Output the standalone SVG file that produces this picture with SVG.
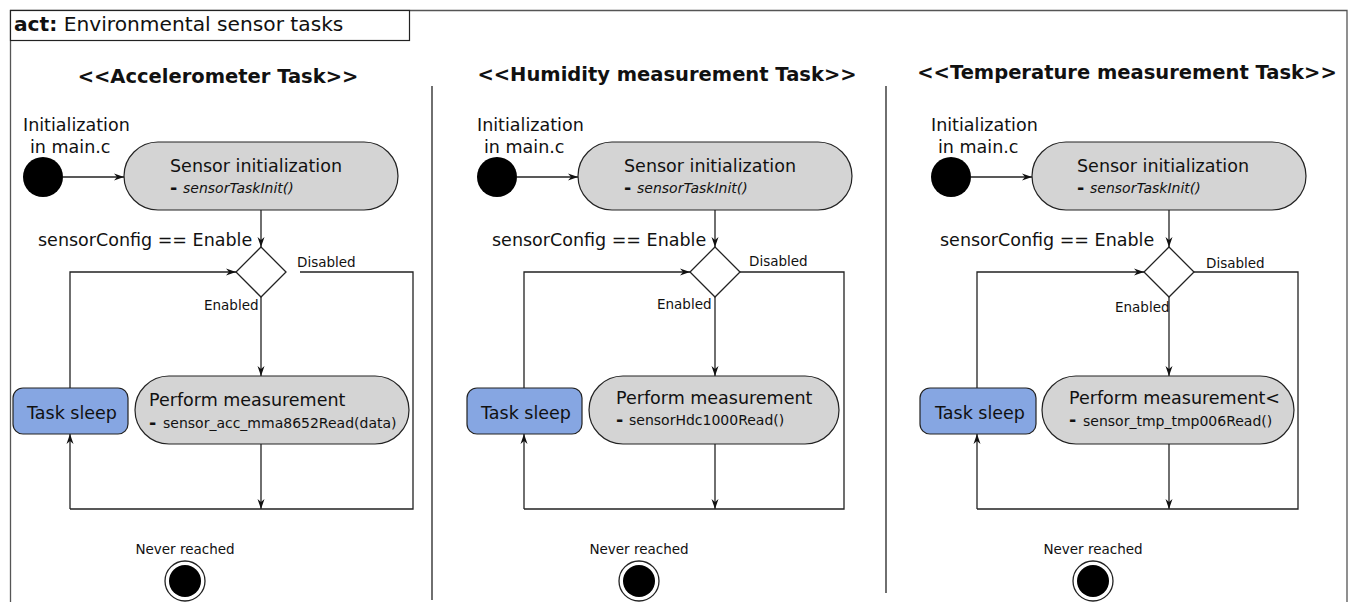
<svg xmlns="http://www.w3.org/2000/svg" width="1348" height="602" viewBox="0 0 1348 602">
<defs>
<style>
text{font-family:"DejaVu Sans","Liberation Sans",sans-serif;fill:#111}
.t{font-size:17.5px}
.d{font-size:17.5px;font-weight:bold}
.s{font-size:13.5px}
.c{font-size:14px}
.i{font-size:14px;font-style:italic}
.h{font-size:19.5px;font-weight:bold;text-anchor:middle}
.box{fill:#d4d4d4;stroke:#222;stroke-width:1.2}
.blue{fill:#86a6e2;stroke:#222;stroke-width:1.2}
.ln{fill:none;stroke:#222;stroke-width:1.3}
.arr{fill:none;stroke:#222;stroke-width:1.3;marker-end:url(#a)}
.dia{fill:#fff;stroke:#222;stroke-width:1.3}
</style>
<marker id="a" viewBox="0 0 10 8" refX="10" refY="4" markerWidth="10" markerHeight="8" markerUnits="userSpaceOnUse" orient="auto"><path d="M0,0.5 L10,4 L0,7.5 L3,4 z" fill="#111"/></marker>
</defs>
<rect width="1348" height="602" fill="#fff"/>
<g id="frame">
<path d="M10.5,602 V10.5 H1347 V602" fill="none" stroke="#555" stroke-width="1.3"/>
<rect x="10.5" y="10.5" width="399" height="30" fill="#fff" stroke="#222" stroke-width="1.2"/>
<text x="14" y="31" style="font-size:20.2px"><tspan font-weight="bold">act:</tspan> Environmental sensor tasks</text>
<line x1="432" y1="86" x2="432" y2="600" stroke="#222" stroke-width="1.3"/>
<line x1="886" y1="86" x2="886" y2="593" stroke="#222" stroke-width="1.3"/>
</g>
<!-- Panel 1 -->
<g id="p1-title"><text class="h" x="218" y="83">&lt;&lt;Accelerometer Task&gt;&gt;</text></g>
<g id="p1-start">
<text class="t" x="23" y="131">Initialization</text>
<text class="t" x="30" y="153">in main.c</text>
<circle cx="43" cy="177" r="20" fill="#000"/>
</g>
<g id="p1-init">
<rect class="box" x="124" y="142" width="274" height="68" rx="34"/>
<text class="t" x="170" y="172">Sensor initialization</text>
<text class="d" x="170" y="194">-</text><text class="i" x="183" y="193">sensorTaskInit()</text>
</g>
<g id="p1-decision">
<path class="dia" d="M261,247 L286,272 L261,297 L236,272 Z"/>
<text class="t" x="38" y="246">sensorConfig == Enable</text>
<text class="s" x="297" y="267">Disabled</text>
<text class="s" x="204" y="310">Enabled</text>
</g>
<g id="p1-measure">
<rect class="box" x="135" y="376" width="274" height="68" rx="34"/>
<text class="t" x="149" y="406">Perform measurement</text>
<text class="d" x="149" y="429">-</text><text class="c" x="163" y="428">sensor_acc_mma8652Read(data)</text>
</g>
<g id="p1-sleep">
<rect class="blue" x="13" y="388" width="115" height="46" rx="10"/>
<text class="t" x="27" y="419">Task sleep</text>
</g>
<g id="p1-end">
<text class="s" x="185" y="554" text-anchor="middle">Never reached</text>
<circle cx="185" cy="581" r="20" fill="#fff" stroke="#222" stroke-width="1.3"/>
<circle cx="185" cy="581" r="16" fill="#000"/>
</g>
<g id="p1-connectors">
<line class="arr" x1="63" y1="177" x2="124" y2="177"/>
<line class="arr" x1="261" y1="210" x2="261" y2="247"/>
<line class="arr" x1="261" y1="297" x2="261" y2="376"/>
<line class="arr" x1="261" y1="444" x2="261" y2="509"/>
<path class="arr" d="M70,388 V272 H236"/>
<path class="ln" d="M300,272 H413 V509 H70"/>
<line class="arr" x1="70" y1="509" x2="70" y2="434"/>
</g>
<!-- Panel 2 -->
<g id="p2-title"><text class="h" x="667" y="81">&lt;&lt;Humidity measurement Task&gt;&gt;</text></g>
<g id="p2-start">
<text class="t" x="477" y="131">Initialization</text>
<text class="t" x="484" y="153">in main.c</text>
<circle cx="497" cy="177" r="20" fill="#000"/>
</g>
<g id="p2-init">
<rect class="box" x="578" y="142" width="274" height="68" rx="34"/>
<text class="t" x="624" y="172">Sensor initialization</text>
<text class="d" x="624" y="194">-</text><text class="i" x="637" y="193">sensorTaskInit()</text>
</g>
<g id="p2-decision">
<path class="dia" d="M715,247 L740,272 L715,297 L690,272 Z"/>
<text class="t" x="492" y="246">sensorConfig == Enable</text>
<text class="s" x="749" y="266">Disabled</text>
<text class="s" x="657" y="309">Enabled</text>
</g>
<g id="p2-measure">
<rect class="box" x="589" y="376" width="250" height="68" rx="34"/>
<text class="t" x="616" y="404">Perform measurement</text>
<text class="d" x="616" y="426">-</text><text class="c" x="629" y="425">sensorHdc1000Read()</text>
</g>
<g id="p2-sleep">
<rect class="blue" x="467" y="388" width="115" height="46" rx="10"/>
<text class="t" x="481" y="419">Task sleep</text>
</g>
<g id="p2-end">
<text class="s" x="639" y="554" text-anchor="middle">Never reached</text>
<circle cx="639" cy="581" r="20" fill="#fff" stroke="#222" stroke-width="1.3"/>
<circle cx="639" cy="581" r="16" fill="#000"/>
</g>
<g id="p2-connectors">
<line class="arr" x1="517" y1="177" x2="578" y2="177"/>
<line class="arr" x1="715" y1="210" x2="715" y2="247"/>
<line class="arr" x1="715" y1="297" x2="715" y2="376"/>
<line class="arr" x1="715" y1="444" x2="715" y2="509"/>
<path class="arr" d="M524,388 V272 H690"/>
<path class="ln" d="M740,272 H844 V509 H524"/>
<line class="arr" x1="524" y1="509" x2="524" y2="434"/>
</g>
<!-- Panel 3 -->
<g id="p3-title"><text class="h" x="1127" y="79">&lt;&lt;Temperature measurement Task&gt;&gt;</text></g>
<g id="p3-start">
<text class="t" x="931" y="131">Initialization</text>
<text class="t" x="938" y="153">in main.c</text>
<circle cx="951" cy="177" r="20" fill="#000"/>
</g>
<g id="p3-init">
<rect class="box" x="1032" y="142" width="274" height="68" rx="34"/>
<text class="t" x="1077" y="172">Sensor initialization</text>
<text class="d" x="1077" y="194">-</text><text class="i" x="1090" y="193">sensorTaskInit()</text>
</g>
<g id="p3-decision">
<path class="dia" d="M1169,247 L1194,272 L1169,297 L1144,272 Z"/>
<text class="t" x="940" y="246">sensorConfig == Enable</text>
<text class="s" x="1206" y="268">Disabled</text>
<text class="s" x="1115" y="312">Enabled</text>
</g>
<g id="p3-measure">
<rect class="box" x="1042" y="376" width="252" height="68" rx="34"/>
<text class="t" x="1069" y="404">Perform measurement&lt;</text>
<text class="d" x="1069" y="426">-</text><text class="c" x="1083" y="426">sensor_tmp_tmp006Read()</text>
</g>
<g id="p3-sleep">
<rect class="blue" x="920" y="388" width="116" height="46" rx="10"/>
<text class="t" x="935" y="419">Task sleep</text>
</g>
<g id="p3-end">
<text class="s" x="1093" y="554" text-anchor="middle">Never reached</text>
<circle cx="1093" cy="581" r="20" fill="#fff" stroke="#222" stroke-width="1.3"/>
<circle cx="1093" cy="581" r="16" fill="#000"/>
</g>
<g id="p3-connectors">
<line class="arr" x1="971" y1="177" x2="1032" y2="177"/>
<line class="arr" x1="1169" y1="210" x2="1169" y2="247"/>
<line class="arr" x1="1169" y1="297" x2="1169" y2="376"/>
<line class="arr" x1="1169" y1="444" x2="1169" y2="509"/>
<path class="arr" d="M977,388 V272 H1144"/>
<path class="ln" d="M1194,272 H1298 V509 H977"/>
<line class="arr" x1="977" y1="509" x2="977" y2="434"/>
</g>
</svg>
